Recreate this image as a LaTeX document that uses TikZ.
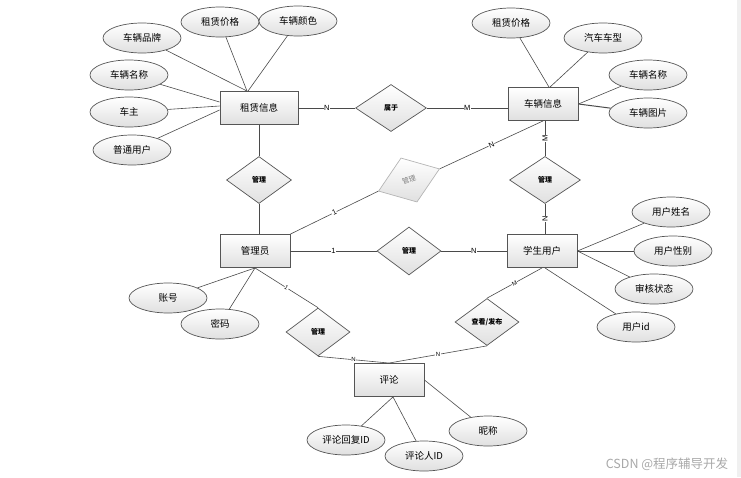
\documentclass[tikz,border=0pt]{standalone}
\usepackage{fontspec}
\usepackage{tikz}
\usetikzlibrary{shapes.geometric}
\newfontfamily\cjk{Noto Sans CJK SC}
\newfontfamily\latin{Liberation Sans}
\definecolor{EdgeGray}{HTML}{555555}
\definecolor{FillGray}{HTML}{E0E0E0}
\definecolor{LineGray}{HTML}{4A4A4A}
\definecolor{FaintGray}{HTML}{B5B5B5}
\definecolor{MarkGray}{HTML}{A8A8A8}
\definecolor{BandGray}{HTML}{F0F0F0}

\begin{document}
\begin{tikzpicture}[x=1pt,y=-1pt,
    every node/.style={font=\cjk\fontsize{9.5}{11}\selectfont},
    entity/.style={draw=EdgeGray,line width=0.9pt,top color=white,bottom color=FillGray,minimum width=70pt,minimum height=33pt,inner sep=0pt},
    attr/.style={ellipse,draw=EdgeGray,line width=0.7pt,top color=white,bottom color=FillGray,minimum width=78pt,minimum height=30pt,inner sep=0pt},
    rel/.style={diamond,draw=EdgeGray,line width=0.7pt,top color=white,bottom color=FillGray,minimum width=65pt,minimum height=47pt,inner sep=0pt,font=\cjk\fontsize{7}{8}\selectfont\bfseries},
    card/.style={fill=white,inner sep=0.5pt,font=\latin\fontsize{7.5}{8}\selectfont},
    link/.style={draw=LineGray,line width=0.6pt}
  ]
    \useasboundingbox (0,0) rectangle (741,477);
    \fill[BandGray] (737,0) rectangle (741,477);

    \node[entity,minimum width=78pt] (rent) at (259,108) {租赁信息};
    \node[entity] (car) at (543,104) {车辆信息};
    \node[entity] (admin) at (255,251) {管理员};
    \node[entity] (student) at (542,251) {学生用户};
    \node[entity] (comment) at (389,380) {评论};

    \node[rel,minimum width=71pt] (belong) at (391,108) {属于};
    \node[rel] (mgrRent) at (259,180) {管理};
    \node[rel,draw=FaintGray,text=gray,rotate=20,font=\cjk\fontsize{7}{8}\selectfont] (mgrCar) at (409,180) {管理};
    \node[rel,minimum width=71pt] (mgrUser) at (545,180) {管理};
    \node[rel,minimum width=64pt,minimum height=48pt] (mgrStudent) at (409,251) {管理};
    \node[rel,minimum width=64pt,minimum height=48pt] (mgrComment) at (318,332) {管理};
    \node[rel,minimum width=64pt] (publish) at (487,322) {查看/发布};

    \node[attr] (brand) at (142,38) {车辆品牌};
    \node[attr] (rentPrice) at (220,22) {租赁价格};
    \node[attr] (color) at (298,21) {车辆颜色};
    \node[attr] (rentName) at (129,75) {车辆名称};
    \node[attr] (owner) at (129,112) {车主};
    \node[attr] (user) at (132,150) {普通用户};

    \node[attr] (carPrice) at (511,23) {租赁价格};
    \node[attr] (model) at (603,38) {汽车车型};
    \node[attr] (carName) at (648,75) {车辆名称};
    \node[attr] (photo) at (648,113) {车辆图片};

    \node[attr] (account) at (168,298) {账号};
    \node[attr] (pwd) at (220,324) {密码};

    \node[attr] (uname) at (671,212) {用户姓名};
    \node[attr] (gender) at (673,251) {用户性别};
    \node[attr] (audit) at (654,289) {审核状态};
    \node[attr] (uid) at (636,327) {用户id};

    \node[attr] (reply) at (346,440) {评论回复ID};
    \node[attr] (commenter) at (424,456) {评论人ID};
    \node[attr] (nick) at (488,431) {昵称};

    \node[text=MarkGray,font=\cjk\fontsize{12.5}{14}\selectfont] (mark) at (667,464) {CSDN @程序辅导开发};

    \draw[link] (brand) -- ([xshift=-12pt]rent.north);
    \draw[link] (rentPrice) -- ([xshift=-12pt]rent.north);
    \draw[link] (color) -- ([xshift=-11pt]rent.north);
    \draw[link] (rentName) -- ([yshift=6pt]rent.west);
    \draw[link] (owner) -- ([yshift=2pt]rent.west);
    \draw[link] (user) -- ([yshift=-2pt]rent.west);

    \draw[link] (carPrice) -- ([xshift=6pt]car.north);
    \draw[link] (model) -- ([xshift=7pt]car.north);
    \draw[link] (carName) -- (car.east);
    \draw[link,line width=1pt] (photo) -- (car.east);

    \draw[link] (account) -- (admin.south);
    \draw[link] (pwd) -- (admin.south);

    \draw[link] (uname) -- (student.east);
    \draw[link] (gender) -- (student.east);
    \draw[link] (audit) -- (student.east);
    \draw[link] (uid) -- ([xshift=3pt]student.south);

    \draw[link] (reply) -- ([xshift=4pt]comment.south);
    \draw[link] (commenter) -- ([xshift=4pt]comment.south);
    \draw[link] (nick) -- (comment.east);

    \draw[link] (rent.east) -- node[card] {N} (belong.west);
    \draw[link] (belong.east) -- node[card] {M} (belong.east -| car.west);
    \draw[link] (rent.south) -- (mgrRent.north);
    \draw[link] (mgrRent.south) -- (admin.north -| mgrRent.south);
    \draw[link] (admin.north east) -- node[card,sloped] {1} (mgrCar.west);
    \draw[link] (mgrCar.east) -- node[card,sloped] {N} (car.south);
    \draw[link] (mgrUser.north) -- node[card,rotate=90] {M} (mgrUser.north |- car.south);
    \draw[link] (mgrUser.south) -- node[card,rotate=90] {N} (mgrUser.south |- student.north);
    \draw[link] (admin.east) -- node[card] {1} (mgrStudent.west);
    \draw[link] (mgrStudent.east) -- node[card] {N} (student.west);
    \draw[link] (admin.south) -- node[card,sloped,font=\latin\fontsize{6}{7}\selectfont] {1} (mgrComment.north);
    \draw[link] (student.south) -- node[card,sloped,font=\latin\fontsize{6}{7}\selectfont] {M} (publish.north);
    \draw[link] (mgrComment.south) -- node[card,font=\latin\fontsize{6}{7}\selectfont] {N} (comment.north);
    \draw[link] (publish.south) -- node[card,font=\latin\fontsize{6}{7}\selectfont] {N} (comment.north);
  \end{tikzpicture}
\end{document}
